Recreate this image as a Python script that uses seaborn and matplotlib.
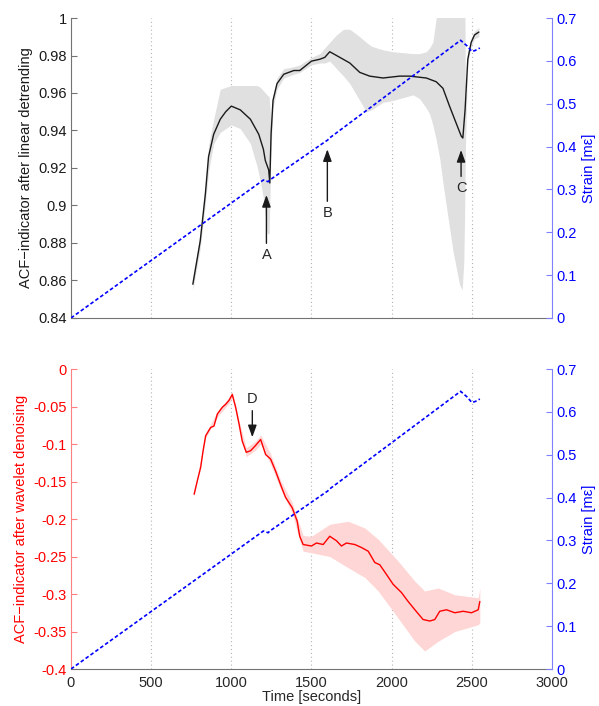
import numpy as np
import pandas as pd
import matplotlib
matplotlib.use("Agg")
import matplotlib.pyplot as plt
import seaborn as sns

sns.set_theme(style="white")
plt.rcParams['font.family'] = ['Liberation Sans', 'DejaVu Sans']
plt.rcParams['font.size'] = 10

# ---------------- data ----------------
strain_t = [0, 1200, 1230, 1240, 1580, 1600, 1620, 2430, 2470, 2500, 2520, 2550]
strain_v = [0, 0.322, 0.318, 0.322, 0.410, 0.415, 0.422, 0.648, 0.635, 0.622, 0.624, 0.630]

top_t = [760, 806, 838, 858, 890, 931, 965, 1000, 1056, 1119, 1171, 1200, 1212, 1233, 1240,
         1248, 1260, 1285, 1327, 1390, 1427, 1500, 1552, 1583, 1614, 1656, 1739, 1801, 1863,
         1946, 2050, 2112, 2216, 2278, 2320, 2361, 2402, 2434, 2444, 2458, 2475, 2496, 2517, 2544]
top_v = [0.858, 0.881, 0.906, 0.926, 0.938, 0.946, 0.950, 0.953, 0.951, 0.946, 0.938, 0.930, 0.924,
         0.919, 0.912, 0.938, 0.956, 0.965, 0.970, 0.972, 0.972, 0.977, 0.978, 0.979, 0.982, 0.980,
         0.976, 0.971, 0.969, 0.968, 0.969, 0.969, 0.968, 0.966, 0.9625, 0.953, 0.944, 0.937, 0.936,
         0.951, 0.978, 0.987, 0.991, 0.9925]

topband_t = [760, 806, 838, 858, 890, 931, 1000, 1056, 1119, 1160, 1181, 1202, 1223, 1236, 1248,
             1260, 1285, 1327, 1390, 1427, 1500, 1552, 1583, 1614, 1656, 1700, 1739, 1801, 1842,
             1873, 1946, 2008, 2133, 2174, 2216, 2236, 2257, 2278, 2300, 2320, 2382, 2423, 2440,
             2450, 2455, 2460, 2465, 2475, 2496, 2517, 2544]
topband_lo = [0.855, 0.877, 0.901, 0.918, 0.933, 0.939, 0.943, 0.941, 0.933, 0.921, 0.913, 0.903,
              0.885, 0.885, 0.930, 0.952, 0.962, 0.968, 0.970, 0.971, 0.975, 0.976, 0.976, 0.977,
              0.973, 0.969, 0.965, 0.956, 0.950, 0.951, 0.955, 0.956, 0.959, 0.957, 0.952, 0.949,
              0.943, 0.935, 0.925, 0.912, 0.876, 0.858, 0.855, 0.870, 0.894, 0.930, 0.947, 0.976,
              0.985, 0.989, 0.990]
topband_hi = [0.861, 0.885, 0.911, 0.932, 0.946, 0.962, 0.964, 0.964, 0.964, 0.964, 0.963, 0.961,
              0.959, 0.958, 0.944, 0.959, 0.968, 0.973, 0.974, 0.975, 0.979, 0.981, 0.984, 0.987,
              0.991, 0.994, 0.994, 0.990, 0.987, 0.985, 0.983, 0.982, 0.981, 0.981, 0.982, 0.984,
              0.987, 1.000, 1.010, 1.020, 1.030, 1.030, 1.030, 1.030, 1.030, 0.960, 0.957, 0.982,
              0.989, 0.993, 0.995]

bot_t = [768, 788, 809, 824, 840, 871, 892, 913, 944, 965, 985, 1006, 1027, 1048, 1068, 1093,
         1120, 1151, 1183, 1214, 1245, 1276, 1307, 1338, 1380, 1411, 1421, 1427, 1448, 1500, 1531,
         1573, 1614, 1656, 1687, 1718, 1770, 1812, 1854, 1895, 1926, 1968, 2009, 2061, 2103, 2145,
         2196, 2238, 2269, 2300, 2342, 2394, 2446, 2498, 2540, 2550]
bot_v = [-0.167, -0.149, -0.131, -0.109, -0.089, -0.078, -0.076, -0.060, -0.051, -0.047, -0.042,
         -0.034, -0.051, -0.073, -0.096, -0.111, -0.109, -0.102, -0.094, -0.114, -0.120, -0.136,
         -0.154, -0.171, -0.185, -0.203, -0.216, -0.223, -0.234, -0.236, -0.232, -0.234, -0.223,
         -0.229, -0.236, -0.232, -0.234, -0.238, -0.243, -0.258, -0.261, -0.274, -0.287, -0.298,
         -0.310, -0.321, -0.334, -0.336, -0.334, -0.323, -0.321, -0.325, -0.323, -0.325, -0.321,
         -0.310]

botband_t = [768, 840, 913, 985, 1006, 1048, 1093, 1151, 1183, 1245, 1307, 1380, 1421, 1448, 1500,
             1614, 1729, 1833, 1916, 2040, 2145, 2206, 2290, 2394, 2540, 2550]
botband_lo = [-0.170, -0.092, -0.064, -0.046, -0.038, -0.077, -0.117, -0.108, -0.100, -0.127,
              -0.160, -0.192, -0.225, -0.243, -0.245, -0.250, -0.265, -0.278, -0.296, -0.332,
              -0.363, -0.376, -0.363, -0.350, -0.341, -0.338]
botband_hi = [-0.164, -0.086, -0.056, -0.038, -0.030, -0.069, -0.105, -0.096, -0.088, -0.113,
              -0.148, -0.178, -0.205, -0.222, -0.223, -0.207, -0.203, -0.212, -0.227, -0.256,
              -0.283, -0.296, -0.292, -0.301, -0.305, -0.292]

xticks = [0, 500, 1000, 1500, 2000, 2500, 3000]
top_yticks = [0.84, 0.86, 0.88, 0.9, 0.92, 0.94, 0.96, 0.98, 1.0]
bot_yticks = [-0.4, -0.35, -0.3, -0.25, -0.2, -0.15, -0.1, -0.05, 0]
strain_ticks = [0, 0.1, 0.2, 0.3, 0.4, 0.5, 0.6, 0.7]

labels_top = [("A", 1219, 0.9056, 0.8736), ("B", 1599, 0.930, 0.896), ("C", 2433, 0.9296, 0.9093)]
label_bot = ("D", 1131, -0.091, -0.040)

# ---------------- figure ----------------
fig = plt.figure(figsize=(5.99, 7.06), dpi=100)
ax1 = fig.add_axes([0.1185, 0.5496, 0.803, 0.4249])
ax2 = fig.add_axes([0.1185, 0.0524, 0.803, 0.4249])

BLUE = (0, 0, 1)
RED = (1, 0, 0)
DASH = (0, (2.2, 1.4))
ARROW = dict(arrowstyle='-|>,head_length=0.36,head_width=0.13',
             color='k', lw=1.0, mutation_scale=20, shrinkA=1, shrinkB=0)

def fmt(v):
    return "%g" % v

def style_axes(ax, left_color, spine_color, show_xlabels):
    ax.set_xlim(0, 3000)
    ax.set_xticks(xticks)
    if show_xlabels:
        ax.set_xticklabels([str(x) for x in xticks])
    else:
        ax.set_xticklabels([])
    ax.tick_params(axis='both', direction='in', length=4, width=0.8, labelsize=10.5,
                   color='0.4', pad=3)
    ax.tick_params(axis='x', pad=5)
    ax.tick_params(axis='y', labelcolor=left_color, colors=spine_color, labelsize=10.5)
    ax.tick_params(axis='y', labelcolor=left_color)
    for side in ['top', 'right']:
        ax.spines[side].set_visible(False)
    ax.spines['bottom'].set_color('0.45')
    ax.spines['left'].set_color(spine_color)
    for sp in ax.spines.values():
        sp.set_linewidth(0.8)
    ax.xaxis.grid(True, linestyle=(0, (1, 2.5)), color='0.7', linewidth=0.8)
    ax.yaxis.grid(False)
    ax.set_axisbelow(True)

def style_twin(axr):
    axr.set_ylim(0, 0.7)
    axr.set_yticks(strain_ticks)
    axr.set_yticklabels([fmt(v) for v in strain_ticks])
    axr.tick_params(axis='y', direction='in', length=4, width=0.8, colors=(0.5, 0.5, 1),
                    labelcolor=BLUE, labelsize=10.5, pad=3)
    for side in ['top', 'left', 'bottom']:
        axr.spines[side].set_visible(False)
    axr.spines['right'].set_color((0.5, 0.5, 1))
    axr.spines['right'].set_linewidth(0.8)
    axr.set_ylabel("Strain [mε]", color=BLUE, fontsize=10.5, labelpad=4)
    axr.grid(False)

# ---- top panel ----
ax1.fill_between(topband_t, topband_lo, topband_hi, color=(0.88, 0.88, 0.88), linewidth=0)
sns.lineplot(x=top_t, y=top_v, ax=ax1, color='k', linewidth=1.0)
ax1.set_ylim(0.84, 1.0)
ax1.set_yticks(top_yticks)
ax1.set_yticklabels([fmt(v) for v in top_yticks])
style_axes(ax1, 'k', '0.45', False)
ax1.set_ylabel("ACF−indicator after linear detrending", fontsize=10.5, color='k', labelpad=4)

ax1r = ax1.twinx()
sns.lineplot(x=strain_t, y=strain_v, ax=ax1r, color=BLUE, linewidth=1.2, linestyle=DASH)
style_twin(ax1r)

for name, tx, tip, ty in labels_top:
    ax1r.annotate(name, xy=(tx, tip), xycoords=ax1.transData,
                  xytext=(tx, ty), textcoords=ax1.transData,
                  ha='center', va='center', fontsize=10.5, arrowprops=ARROW)

# ---- bottom panel ----
ax2.fill_between(botband_t, botband_lo, botband_hi, color=(1, 0.84, 0.84), linewidth=0)
sns.lineplot(x=bot_t, y=bot_v, ax=ax2, color=RED, linewidth=1.0)
ax2.set_ylim(-0.4, 0)
ax2.set_yticks(bot_yticks)
ax2.set_yticklabels([fmt(v) for v in bot_yticks])
style_axes(ax2, RED, (1, 0.5, 0.5), True)
ax2.set_ylabel("ACF−indicator after wavelet denoising", fontsize=10.5, color=RED, labelpad=4)
ax2.set_xlabel("Time [seconds]", fontsize=10.5, labelpad=0)

ax2r = ax2.twinx()
sns.lineplot(x=strain_t, y=strain_v, ax=ax2r, color=BLUE, linewidth=1.2, linestyle=DASH)
style_twin(ax2r)

name, tx, tip, ty = label_bot
ax2r.annotate(name, xy=(tx, tip), xycoords=ax2.transData,
              xytext=(tx, ty), textcoords=ax2.transData,
              ha='center', va='center', fontsize=10.5, arrowprops=ARROW)

fig.savefig("out.png", dpi=100)
